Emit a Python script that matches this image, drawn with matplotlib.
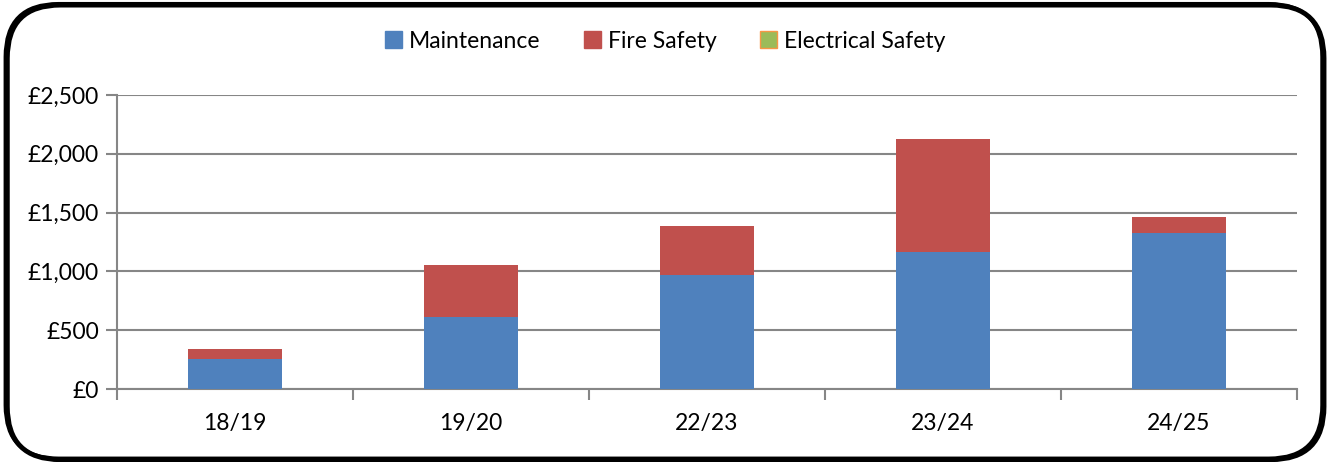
import numpy as np
import matplotlib.pyplot as plt
from matplotlib.patches import FancyBboxPatch, Patch
from matplotlib.ticker import FuncFormatter

plt.rcParams['font.family'] = ['Lato', 'DejaVu Sans']

# data
years = ['18/19', '19/20', '22/23', '23/24', '24/25']
maintenance = [255, 612, 967, 1167, 1323]
fire_safety = [85, 442, 419, 959, 142]
electrical_safety = [0, 0, 0, 0, 0]

blue = '#4F81BD'
red = '#C0504D'
green = '#9BBB59'
grid_col = '#868686'

fig = plt.figure(figsize=(13.3, 4.62), dpi=100)
ax = fig.add_axes([117/1330, 1-389/462, 1180/1330, 294/462])

x = np.arange(len(years))
w = 0.40
ax.bar(x, maintenance, w, color=blue, zorder=3)
ax.bar(x, fire_safety, w, bottom=maintenance, color=red, zorder=3)
bot2 = np.array(maintenance) + np.array(fire_safety)
ax.bar(x, electrical_safety, w, bottom=bot2, color=green, zorder=3)

ax.set_xlim(-0.5, len(years)-0.5)
ax.set_ylim(0, 2500)
ax.set_yticks(np.arange(0, 2501, 500))
ax.yaxis.set_major_formatter(FuncFormatter(lambda v, p: '£{:,.0f}'.format(v)))
ax.yaxis.grid(True, color=grid_col, linewidth=1.5, zorder=0)

ax.set_xticks(x)
ax.set_xticklabels(years)
ax.set_xticks(np.arange(-0.5, len(years), 1), minor=True)
ax.tick_params(axis='x', which='major', length=0, pad=17, labelsize=16.5)
ax.tick_params(axis='x', which='minor', length=8, width=1.5, color=grid_col)
ax.tick_params(axis='y', length=8, width=1.5, color=grid_col, labelsize=16.5, pad=5)

for s in ['top', 'right']:
    ax.spines[s].set_visible(False)
for s in ['left', 'bottom']:
    ax.spines[s].set_color(grid_col)
    ax.spines[s].set_linewidth(1.5)

handles = [Patch(facecolor=blue, edgecolor=blue, label='Maintenance'),
           Patch(facecolor=red, edgecolor=red, label='Fire Safety'),
           Patch(facecolor=green, edgecolor='#F79646', linewidth=1, label='Electrical Safety')]
fig.legend(handles=handles, loc='center', bbox_to_anchor=(0.5, 1-41/462), ncol=3,
           frameon=False, fontsize=16.5, handlelength=0.75, handleheight=0.75,
           handletextpad=0.3, columnspacing=1.9)

# drop shadow then border
shadow = FancyBboxPatch((0.0055, 0.005), 0.99, 0.984, boxstyle='round,pad=0,rounding_size=0.04',
                        transform=fig.transFigure, facecolor='none', edgecolor='black',
                        linewidth=3.5, mutation_aspect=1330/462)
border = FancyBboxPatch((0.004, 0.008), 0.99, 0.984, boxstyle='round,pad=0,rounding_size=0.04',
                        transform=fig.transFigure, facecolor='none', edgecolor='black',
                        linewidth=2.5, mutation_aspect=1330/462)
fig.patches.append(shadow)
fig.patches.append(border)

fig.savefig('out.png', dpi=100)
